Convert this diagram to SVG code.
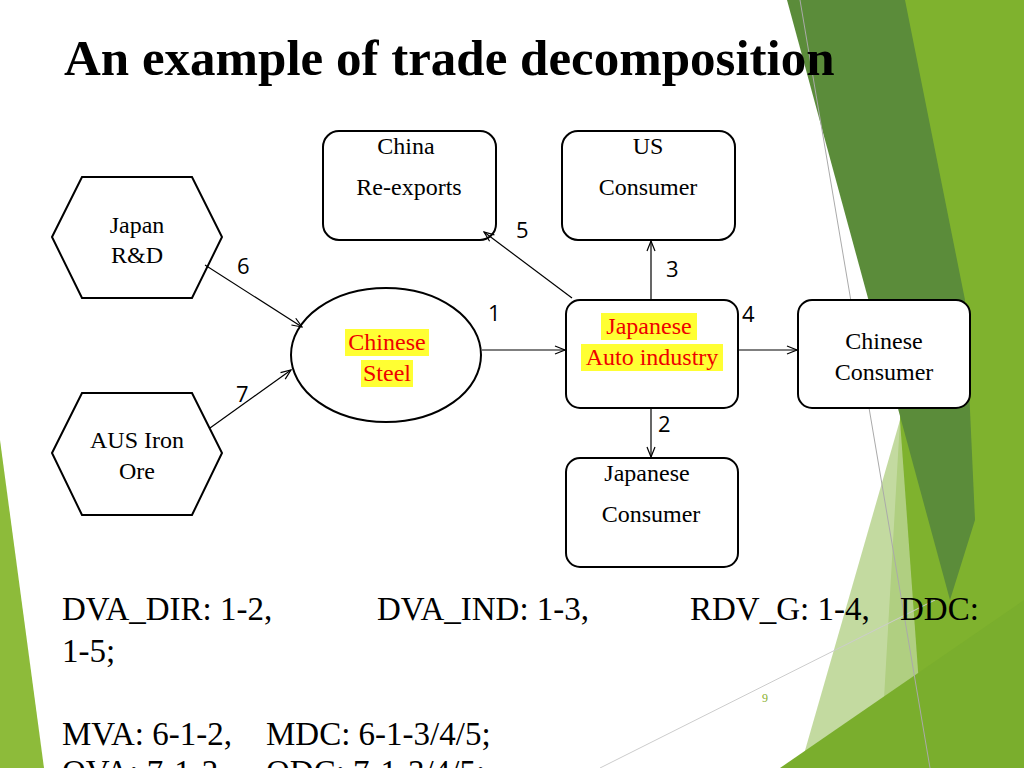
<svg xmlns="http://www.w3.org/2000/svg" width="1024" height="768" viewBox="0 0 1024 768">
<style>
.n{fill:#fff;stroke:#000;stroke-width:2}
.t{font-family:"Liberation Serif",serif;font-size:24px;text-anchor:middle}
.r{fill:#e00;}
.hl{fill:#ffff33}
.num{font-family:"Open Sans",sans-serif;font-size:22px}
.b{font-family:"Liberation Serif",serif;font-size:33px}
.c{stroke:#000;stroke-width:1.2;fill:none;marker-end:url(#a)}
</style>
<defs><marker id="a" markerWidth="12" markerHeight="10" refX="11" refY="5" orient="auto" markerUnits="userSpaceOnUse"><path d="M1,1 L11,5 L1,9" fill="none" stroke="#000" stroke-width="1.2"/></marker></defs>
<rect width="1024" height="768" fill="#fff"/>
<g id="bg">
<polygon points="905,0 1024,0 1024,768 880,768 900,420" fill="#7fb22e"/>
<polygon points="787,0 905,0 965,300 975,520 950,600" fill="#5b8c3a"/>
<polygon points="800,768 900,420 925,768" fill="#b9d48f" opacity="0.85"/>
<polygon points="780,768 1024,600 1024,768" fill="#7aae2d"/>
<line x1="800" y1="0" x2="930" y2="768" stroke="#aaa" stroke-width="1"/>
<line x1="600" y1="768" x2="935" y2="600" stroke="#ccc" stroke-width="1"/>
<polygon points="0,440 0,768 44,768" fill="#8dbb3a"/>
</g>
<text x="64" y="75" font-family="Liberation Serif,serif" font-size="51" font-weight="bold">An example of trade decomposition</text>
<g id="china"><rect class="n" x="323" y="131" width="173" height="109" rx="16"/><text class="t" x="406" y="154">China</text><text class="t" x="409" y="195">Re-exports</text></g>
<g id="us"><rect class="n" x="562" y="131" width="173" height="109" rx="16"/><text class="t" x="648" y="154">US</text><text class="t" x="648" y="195">Consumer</text></g>
<g id="japanrd"><polygon class="n" points="52,237 82,177 192,177 222,237 192,298 82,298"/><text class="t" x="137" y="233">Japan</text><text class="t" x="137" y="263">R&amp;D</text></g>
<g id="aus"><polygon class="n" points="52,453 82,393 192,393 222,453 192,515 82,515"/><text class="t" x="137" y="448">AUS Iron</text><text class="t" x="137" y="479">Ore</text></g>
<g id="steel"><ellipse class="n" cx="386" cy="355" rx="95" ry="67"/><rect class="hl" x="345" y="329" width="84" height="27"/><rect class="hl" x="361" y="360" width="52" height="27"/><text class="t r" x="387" y="350">Chinese</text><text class="t r" x="387" y="381">Steel</text></g>
<g id="auto"><rect class="n" x="566" y="300" width="172" height="108" rx="14"/><rect class="hl" x="601" y="313" width="96" height="27"/><rect class="hl" x="581" y="344" width="142" height="27"/><text class="t r" x="649" y="334">Japanese</text><text class="t r" x="652" y="365">Auto industry</text></g>
<g id="cncons"><rect class="n" x="798" y="300" width="172" height="108" rx="14"/><text class="t" x="884" y="349">Chinese</text><text class="t" x="884" y="380">Consumer</text></g>
<g id="jpcons"><rect class="n" x="566" y="458" width="172" height="109" rx="14"/><text class="t" x="647" y="481">Japanese</text><text class="t" x="651" y="522">Consumer</text></g>
<g id="connectors">
<line class="c" x1="205" y1="265" x2="302" y2="327"/>
<line class="c" x1="210" y1="428" x2="291" y2="370"/>
<line class="c" x1="482" y1="350" x2="565" y2="350"/>
<line class="c" x1="738" y1="350" x2="797" y2="350"/>
<line class="c" x1="651" y1="300" x2="651" y2="241"/>
<line class="c" x1="651" y1="408" x2="651" y2="457"/>
<line class="c" x1="572" y1="298" x2="484" y2="232"/>
</g>
<g class="num"><text x="237" y="274">6</text><text x="236" y="402">7</text><text x="488" y="321">1</text><text x="742" y="322">4</text><text x="666" y="277">3</text><text x="658" y="432">2</text><text x="516" y="238">5</text></g>
<g class="b">
<text x="62" y="620">DVA_DIR: 1-2,</text><text x="377" y="620">DVA_IND: 1-3,</text><text x="690" y="620">RDV_G: 1-4,</text><text x="900" y="620">DDC:</text>
<text x="62" y="662">1-5;</text>
<text x="62" y="745">MVA: 6-1-2,</text><text x="266" y="745">MDC: 6-1-3/4/5;</text>
<text x="62" y="783">OVA: 7-1-2,</text><text x="266" y="783">ODC: 7-1-3/4/5;</text>
</g>
<text x="762" y="702" font-family="Liberation Serif,serif" font-size="12" fill="#8ab02e">9</text>
</svg>
